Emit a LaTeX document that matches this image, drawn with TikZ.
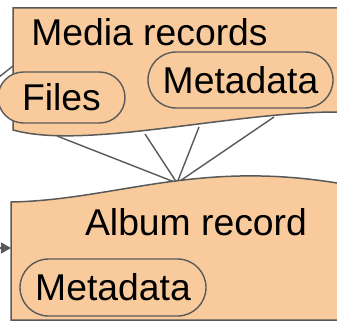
\documentclass[tikz,border=0pt]{standalone}
\usepackage{fontspec}
\setmainfont{Liberation Sans}
\usetikzlibrary{arrows.meta,shapes.misc}

\definecolor{peach}{HTML}{F9CB9C}
\definecolor{edgegray}{HTML}{595959}

\begin{document}
\begin{tikzpicture}[
    x=1pt, y=-1pt,
    font=\fontsize{37.3}{41}\selectfont,
    record/.style={draw=edgegray, line width=1.5pt},
    pill/.style={draw=edgegray, fill=peach, line width=1.4pt, rounded rectangle,
                 inner sep=0pt},
    link/.style={draw=edgegray, line width=1.4pt},
  ]
  \useasboundingbox (0,0) rectangle (337,326);

  % ends of the links between the two records
  \coordinate (join) at (177,183);
  \coordinate (m1) at (57,136);
  \coordinate (m2) at (145,134);
  \coordinate (m3) at (199,127);
  \coordinate (m4) at (274,117);
  \draw[link] (m1) -- (join);
  \draw[link] (m2) -- (join);
  \draw[link] (m3) -- (join);
  \draw[link] (m4) -- (join);

  % media records, wavy bottom, open on the right
  \fill[peach] (13,8) -- (337,8) -- (337,112)
    .. controls (230,112) and (85,150) .. (13,130) -- cycle;
  \path[record] (337,8) -- (13,8) -- (13,130)
    .. controls (85,150) and (230,112) .. (337,112);
  \node[anchor=base] (media) at (149.5,45.5) {Media records};

  % incoming link, mostly hidden under the files pill
  \coordinate (in1) at (0,76.3);
  \coordinate (mediawest) at (13,66);
  \draw[link] (in1) -- (mediawest);

  \node[pill, minimum width=127pt, minimum height=51pt] (files) at (61.5,97.5) {Files};
  \node[pill, minimum width=185pt, minimum height=56pt] (meta1) at (240.5,80) {Metadata};

  % album record, wavy top, open on the right
  \fill[peach] (11,202) .. controls (115,200) and (195,160) .. (337,183)
    -- (337,320) -- (11,320) -- cycle;
  \path[record] (337,183) .. controls (195,160) and (115,200) .. (11,202)
    -- (11,320) -- (337,320);
  \node[anchor=base] (album) at (196,235) {Album record};
  \node[pill, minimum width=186pt, minimum height=57pt] (meta2) at (113,287.5) {Metadata};

  \coordinate (in2) at (0,248);
  \coordinate (albumwest) at (11,248);
  \draw[link, -{Triangle[length=10pt,width=11pt]}] (in2) -- (albumwest);
\end{tikzpicture}
\end{document}
